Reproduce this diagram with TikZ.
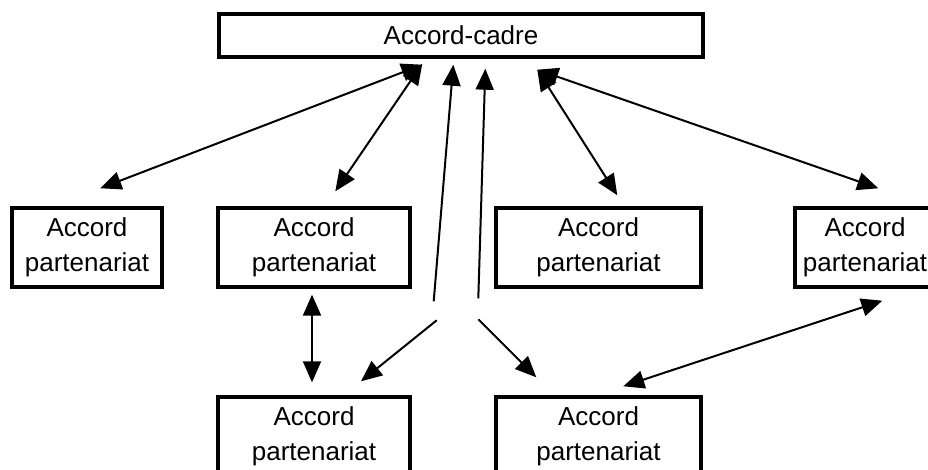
\documentclass[tikz,border=0pt]{standalone}
\usepackage{fontspec}
\setmainfont{Liberation Sans}
\usetikzlibrary{arrows.meta,calc}
\tikzset{
  box/.style={draw=black, line width=3.4pt, fill=white, inner sep=0pt, align=center,
    font=\fontsize{26}{35}\selectfont},
  arr/.style={line width=2pt, -{Triangle[length=21pt,width=18pt]}},
  dbl/.style={line width=2pt, {Triangle[length=21pt,width=18pt]}-{Triangle[length=21pt,width=18pt]}},
}
\begin{document}
\begin{tikzpicture}[x=1pt,y=-1pt]
\clip (0,0) rectangle (928,470);
\fill[white] (0,0) rectangle (928,470);
% boxes
\node[box, minimum width=484pt, minimum height=43pt] (top) at (461,35.5) {\raisebox{-3pt}{Accord-cadre}};
\node[box, minimum width=150pt, minimum height=79pt] (p1) at (87,247.5) {Accord\\partenariat};
\node[box, minimum width=192pt, minimum height=79pt] (p2) at (314,247.5) {Accord\\partenariat};
\node[box, minimum width=205pt, minimum height=79pt] (p3) at (598.5,247.5) {Accord\\partenariat};
\node[box, minimum width=140pt, minimum height=79pt] (p4) at (865,247.5) {Accord\\partenariat};
\node[box, minimum width=192pt, minimum height=79pt] (p5) at (314,436.5) {Accord\\partenariat};
\node[box, minimum width=205pt, minimum height=79pt] (p6) at (598.5,436.5) {Accord\\partenariat};
% free ends
\coordinate (s3) at ($(p2.north east)+(22,95)$);
\coordinate (s4) at ($(p3.north west)+(-16,92)$);
\coordinate (s8) at ($(p5.north east)+(25,-75)$);
\coordinate (s9) at ($(p6.north west)+(-16,-76)$);
% connectors
\draw[dbl] ($(top.south west)+(205,6)$) -- ($(p1.north west)+(90,-18)$);
\draw[dbl] ($(top.south west)+(205,5)$) -- ($(p2.north west)+(119,-15)$);
\draw[arr] (s3) -- ($(top.south west)+(236,6)$);
\draw[arr] (s4) -- ($(top.south west)+(268,10)$);
\draw[dbl] ($(top.south west)+(320,11)$) -- ($(p3.north west)+(123,-11)$);
\draw[dbl] ($(top.south west)+(320,11)$) -- ($(p4.north west)+(85,-18)$);
\draw[dbl] ($(p2.south)+(-2,6)$) -- ($(p5.north)+(-2,-13)$);
\draw[arr] (s8) -- ($(p5.north)+(47,-14)$);
\draw[arr] (s9) -- ($(p6.north west)+(42,-18)$);
\draw[dbl] ($(p4.south west)+(89,12)$) -- ($(p6.north west)+(129,-9)$);
\end{tikzpicture}
\end{document}
